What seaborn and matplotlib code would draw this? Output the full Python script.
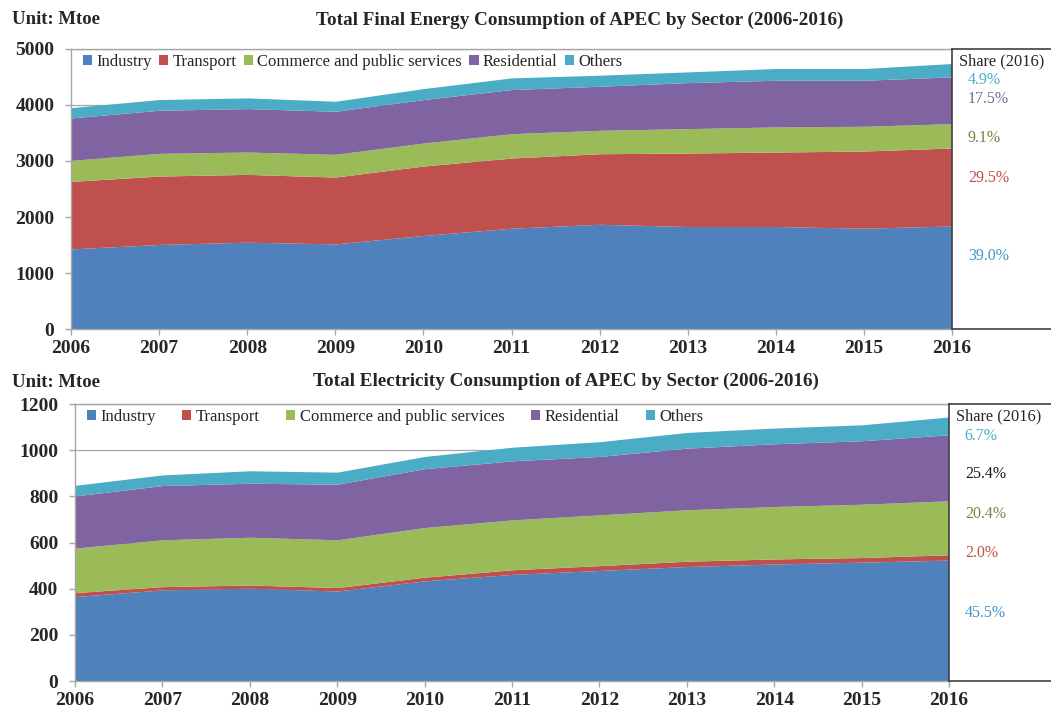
import numpy as np
import pandas as pd
import matplotlib
matplotlib.use("Agg")
import matplotlib.pyplot as plt
from matplotlib.patches import Patch
import seaborn as sns

# Data (Mtoe)
years = list(range(2006, 2017))
sectors = ["Industry", "Transport", "Commerce and public services", "Residential", "Others"]

# Total final energy consumption
tfec_industry = [1430, 1510, 1550, 1520, 1670, 1800, 1870, 1830, 1830, 1800, 1840]
tfec_transport = [1206, 1221, 1211, 1193, 1240, 1253, 1260, 1312, 1330, 1378, 1392]
tfec_commerce = [375, 406, 399, 406, 411, 435, 418, 436, 448, 442, 435]
tfec_residential = [758, 769, 776, 769, 776, 788, 787, 822, 834, 822, 835]
tfec_others = [184, 191, 191, 179, 196, 208, 197, 191, 209, 209, 239]
tfec_shares = ["4.9%", "17.5%", "9.1%", "29.5%", "39.0%"]

# Total electricity consumption
elec_industry = [366, 395, 402, 390, 434, 462, 479, 496, 507, 515, 524]
elec_transport = [17, 14, 14, 15, 16, 20, 21, 23, 22, 20, 23]
elec_commerce = [193, 203, 207, 207, 215, 216, 220, 223, 227, 231, 234]
elec_residential = [226, 235, 234, 241, 255, 256, 253, 267, 272, 275, 286]
elec_others = [46, 46, 54, 52, 53, 59, 64, 68, 68, 69, 77]
elec_shares = ["6.7%", "25.4%", "20.4%", "2.0%", "45.5%"]

sns.set_theme(style="white")
plt.rcParams['font.family'] = ['Liberation Serif', 'DejaVu Serif']

palette = ["#4F81BD", "#C0504D", "#9BBB59", "#8064A2", "#4BACC6"]

tfec = pd.DataFrame({"Industry": tfec_industry, "Transport": tfec_transport,
                     "Commerce and public services": tfec_commerce,
                     "Residential": tfec_residential, "Others": tfec_others}, index=years)
elec = pd.DataFrame({"Industry": elec_industry, "Transport": elec_transport,
                     "Commerce and public services": elec_commerce,
                     "Residential": elec_residential, "Others": elec_others}, index=years)

fig = plt.figure(figsize=(10.51, 7.10), dpi=100)


def draw_panel(rect, share_rect, df, ymax, ystep, title, title_x, title_y, unit_y,
               shares, share_ys, share_colors, colspacing):
    ax = fig.add_axes(rect)
    ax.stackplot(df.index, [df[s].values for s in sectors], colors=palette,
                 linewidth=0, zorder=2)
    ax.set_xlim(2006, 2016)
    ax.set_ylim(0, ymax)
    ax.set_xticks(years)
    ax.set_yticks(np.arange(0, ymax + 1, ystep))
    ax.yaxis.grid(True, color="#A6A6A6", linewidth=0.9, zorder=0)
    ax.set_axisbelow(True)
    for side in ["left", "bottom", "top"]:
        ax.spines[side].set_color("#A6A6A6")
        ax.spines[side].set_linewidth(1.0)
    ax.spines["right"].set_visible(False)
    ax.tick_params(axis="both", which="major", length=4, width=1, color="#A6A6A6",
                   direction="out", bottom=True, left=True)
    ax.tick_params(axis="y", labelsize=14, pad=8)
    ax.tick_params(axis="x", labelsize=14, pad=4)
    for lab in ax.get_xticklabels() + ax.get_yticklabels():
        lab.set_fontweight("bold")

    handles = [Patch(facecolor=c, edgecolor="none") for c in palette]
    ax.legend(handles, sectors, loc="upper left", bbox_to_anchor=(0.0, 1.025),
              ncol=5, frameon=False, fontsize=12, handlelength=0.55,
              handleheight=0.55, handletextpad=0.25, columnspacing=colspacing,
              borderaxespad=0.3)

    fig.text(title_x, title_y, title, ha="center", va="center", fontsize=13.8,
             fontweight="bold")
    fig.text(0.011, unit_y, "Unit: Mtoe", ha="left", va="center", fontsize=13.5,
             fontweight="bold")

    # share box on the right, running past the figure edge
    sax = fig.add_axes(share_rect)
    sax.set_xlim(0, 1)
    sax.set_ylim(0, 1)
    sax.set_xticks([])
    sax.set_yticks([])
    sax.set_facecolor("white")
    for side in sax.spines.values():
        side.set_color("#404040")
        side.set_linewidth(1.2)
    sax.spines["right"].set_visible(False)
    sax.text(0.035, 0.955, "Share (2016)", ha="left", va="center", fontsize=11.8)
    for txt, yy, col in zip(shares, share_ys, share_colors):
        sax.text(0.075, yy, txt, ha="left", va="center", fontsize=11.5, color=col)
    return ax


draw_panel([0.0676, 0.5366, 0.8383, 0.3944], [0.9058, 0.5366, 0.2, 0.3944],
           tfec, 5000, 1000,
           "Total Final Energy Consumption of APEC by Sector (2006-2016)",
           0.552, 0.972, 0.972, tfec_shares,
           [0.89, 0.822, 0.683, 0.54, 0.26],
           ["#4BACC6", "#7F6A95", "#7F7F3F", "#C0504D", "#3E95CD"], 0.45)

draw_panel([0.0714, 0.0408, 0.8316, 0.3901], [0.903, 0.0408, 0.2, 0.3901],
           elec, 1200, 200,
           "Total Electricity Consumption of APEC by Sector (2006-2016)",
           0.538, 0.4634, 0.4606, elec_shares,
           [0.885, 0.749, 0.604, 0.463, 0.245],
           ["#4BACC6", "#1A1A1A", "#7F7F3F", "#C0504D", "#3E95CD"], 1.6)

fig.savefig("out.png", dpi=100)
